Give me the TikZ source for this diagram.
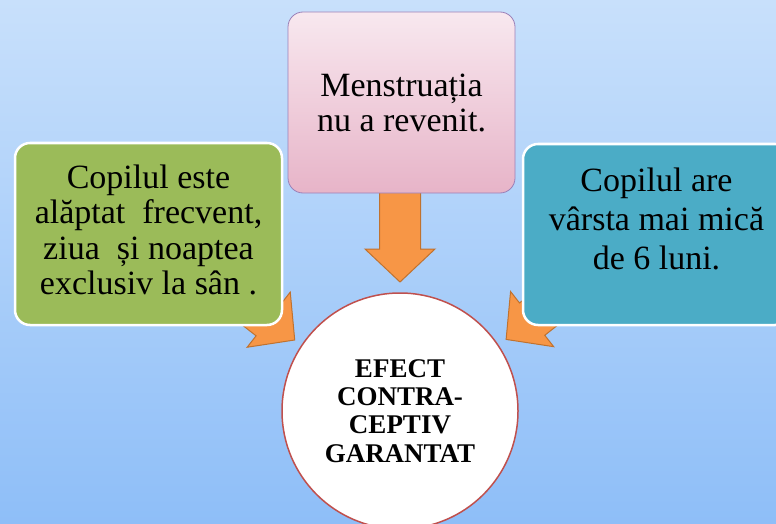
\documentclass[tikz,border=0pt]{standalone}
\usepackage{fontspec}
\setmainfont{Liberation Serif}
\usetikzlibrary{positioning,calc}
\definecolor{bgtop}{HTML}{C8E0FB}
\definecolor{bgbottom}{HTML}{8EBEF8}
\definecolor{leafgreen}{HTML}{9BBB59}
\definecolor{leafteal}{HTML}{4BACC6}
\definecolor{pinktop}{HTML}{F8E8EF}
\definecolor{pinkbottom}{HTML}{E7B4C8}
\definecolor{pinkline}{HTML}{9A80B8}
\definecolor{arrowfill}{HTML}{F79646}
\definecolor{arrowline}{HTML}{C0722F}
\definecolor{ringred}{HTML}{C0504D}
\pgfdeclarelayer{bg}
\pgfdeclarelayer{mid}
\pgfsetlayers{bg,mid,main}
\begin{document}
\begin{tikzpicture}[x=1pt,y=1pt,%
% common options for the side boxes:
leaf/.style = {draw=white, line width=2.5pt, rounded corners=15pt,
            minimum width=267pt, minimum height=182pt, inner sep=0},
% common options for the texts:
leaftext/.style = {align=center, inner sep=0,
            font=\fontsize{34}{35.5}\selectfont},
% the block arrows:
pics/fatarrow/.style = {code={
  \draw[fill=arrowfill, draw=arrowline, line width=1pt]
    (0,0) -- (-33,35) -- (-33,20.5) -- (-#1,20.5) -- (-#1,-20.5)
    -- (-33,-20.5) -- (-33,-35) -- cycle;}}]
\useasboundingbox (0,0) rectangle (776,-524);
\clip (0,0) rectangle (776,-524);
\begin{pgfonlayer}{bg}
\shade[top color=bgtop, bottom color=bgbottom] (0,0) rectangle (776,-524);
\end{pgfonlayer}
\node[leaf, fill=leafgreen] (green) at (148.5,-234) {};
\node[leaf, fill=leafteal, minimum height=181pt] (teal) at (656.5,-234.5) {};
\node[rectangle, rounded corners=15pt, draw=pinkline, line width=0.8pt,
      top color=pinktop, bottom color=pinkbottom, minimum width=227pt,
      minimum height=181pt, align=center, inner sep=0,
      font=\fontsize{34}{35}\selectfont] (pink) at (401.5,-102.5)
      {Menstruația\\nu a revenit.};
\node[leaftext, below=22.5pt of green.north] (greentext)
      {Copilul este\\alăptat\ \ frecvent,\\ziua\ \ și noaptea\\exclusiv la sân .};
\node[leaftext, below=25pt of teal.north, font=\fontsize{34}{39}\selectfont]
      (tealtext) {Copilul are\\vârsta mai mică\\de 6 luni.};
\node[circle, draw=ringred, line width=1.5pt, fill=white, minimum size=236pt,
      align=center, inner sep=0, font=\bfseries\fontsize{27}{28.3}\selectfont]
      (core) at (400,-411) {EFECT\\CONTRA-\\CEPTIV\\GARANTAT};
\begin{pgfonlayer}{mid}
\pic[rotate=-90] at ($(core.center)+(0,129)$) {fatarrow=95};
\pic[rotate=-38] at ($(core.center)+(146:127)$) {fatarrow=90};
\pic[rotate=-142] at ($(core.center)+(34:128)$) {fatarrow=90};
\end{pgfonlayer}
\end{tikzpicture}
\end{document}
